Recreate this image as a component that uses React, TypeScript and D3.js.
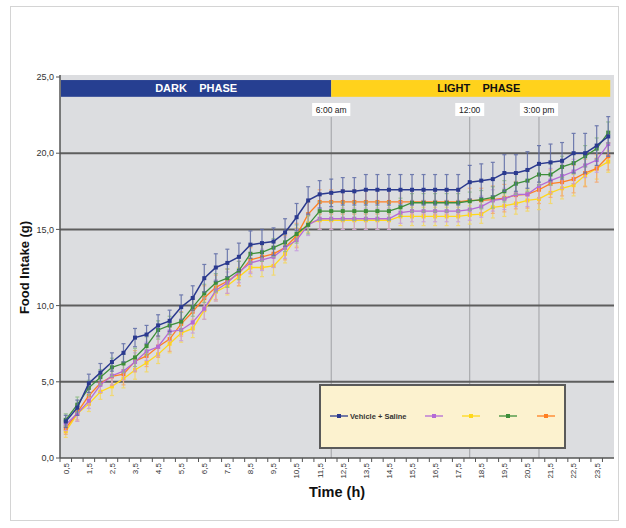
import React from 'react';
import * as d3 from 'd3';

// hours after lights off, one point every half hour
const times = [
  0.5, 1, 1.5, 2, 2.5, 3, 3.5, 4, 4.5, 5, 5.5, 6, 6.5, 7, 7.5, 8,
  8.5, 9, 9.5, 10, 10.5, 11, 11.5, 12, 12.5, 13, 13.5, 14, 14.5, 15, 15.5, 16,
  16.5, 17, 17.5, 18, 18.5, 19, 19.5, 20, 20.5, 21, 21.5, 22, 22.5, 23, 23.5, 24,
];

const yTicks = [0, 5, 10, 15, 20, 25];

const vehicle = [
  2.4, 3.3, 4.9, 5.6, 6.3, 6.9, 7.9, 8.1, 8.7, 9.0, 9.9, 10.5, 11.8, 12.5, 12.8, 13.2,
  14.0, 14.1, 14.2, 14.8, 15.8, 16.9, 17.3, 17.4, 17.5, 17.5, 17.6, 17.6, 17.6, 17.6, 17.6, 17.6,
  17.6, 17.6, 17.6, 18.1, 18.2, 18.3, 18.7, 18.7, 18.9, 19.3, 19.4, 19.5, 20.0, 20.0, 20.5, 21.1,
];
const vehicleErr = [
  0.4, 0.5, 0.6, 0.6, 0.6, 0.6, 0.6, 0.6, 0.7, 0.7, 0.8, 0.8, 0.9, 0.9, 0.9, 0.9,
  0.9, 0.9, 0.9, 0.9, 0.9, 0.9, 0.9, 0.9, 0.9, 0.9, 1.0, 1.0, 1.0, 1.0, 1.0, 1.0,
  1.0, 1.0, 1.0, 1.1, 1.1, 1.1, 1.2, 1.2, 1.2, 1.2, 1.2, 1.2, 1.3, 1.3, 1.3, 1.3,
];

const purple = [
  2.2, 2.9, 3.75, 4.8, 5.4, 5.7, 6.3, 7.0, 7.3, 8.3, 8.4, 8.9, 9.8, 11.0, 11.5, 12.2,
  12.8, 13.0, 13.2, 13.8, 14.3, 15.3, 15.7, 15.7, 15.7, 15.7, 15.7, 15.7, 15.7, 16.1, 16.2, 16.2,
  16.2, 16.2, 16.2, 16.3, 16.5, 16.9, 17.0, 17.3, 17.3, 17.85, 18.2, 18.5, 18.8, 19.2, 19.55, 20.6,
];
const purpleErr = [
  0.4, 0.5, 0.5, 0.5, 0.6, 0.6, 0.6, 0.6, 0.6, 0.6, 0.7, 0.7, 0.7, 0.7, 0.7, 0.7,
  0.7, 0.7, 0.7, 0.7, 0.7, 0.7, 0.7, 0.7, 0.7, 0.7, 0.7, 0.7, 0.7, 0.7, 0.7, 0.7,
  0.7, 0.7, 0.7, 0.7, 0.7, 0.7, 0.7, 0.8, 0.8, 0.8, 0.8, 0.8, 0.8, 0.8, 0.8, 0.8,
];

const yellow = [
  1.75, 2.9, 3.55, 4.35, 4.7, 5.2, 5.77, 6.25, 6.8, 7.5, 8.2, 8.5, 9.7, 10.9, 11.3, 11.9,
  12.5, 12.5, 12.6, 13.4, 14.5, 15.4, 15.6, 15.6, 15.6, 15.6, 15.6, 15.6, 15.6, 15.85, 15.85, 15.85,
  15.85, 15.85, 15.85, 15.95, 16.0, 16.45, 16.55, 16.7, 16.9, 17.0, 17.4, 17.7, 17.9, 18.55, 19.0, 19.45,
];
const yellowErr = [
  0.4, 0.5, 0.5, 0.5, 0.6, 0.6, 0.6, 0.6, 0.6, 0.6, 0.6, 0.6, 0.6, 0.6, 0.6, 0.6,
  0.6, 0.6, 0.6, 0.6, 0.6, 0.6, 0.6, 0.6, 0.6, 0.6, 0.6, 0.6, 0.6, 0.6, 0.6, 0.6,
  0.6, 0.6, 0.6, 0.6, 0.6, 0.7, 0.7, 0.7, 0.7, 0.7, 0.7, 0.7, 0.7, 0.7, 0.7, 0.7,
];

const green = [
  2.5, 3.5, 4.6, 5.3, 5.95, 6.2, 6.6, 7.35, 8.4, 8.7, 8.95, 9.9, 10.8, 11.5, 11.8, 12.3,
  13.4, 13.5, 13.8, 14.15, 14.7, 15.3, 16.2, 16.2, 16.2, 16.2, 16.2, 16.2, 16.2, 16.45, 16.75, 16.75,
  16.75, 16.75, 16.75, 16.85, 16.95, 17.1, 17.5, 18.0, 18.2, 18.6, 18.6, 19.1, 19.35, 19.8, 20.3, 21.35,
];
const greenErr = [
  0.4, 0.5, 0.5, 0.5, 0.6, 0.6, 0.6, 0.6, 0.6, 0.6, 0.6, 0.6, 0.6, 0.6, 0.6, 0.6,
  0.6, 0.6, 0.6, 0.6, 0.6, 0.6, 0.6, 0.6, 0.6, 0.6, 0.6, 0.6, 0.6, 0.6, 0.6, 0.6,
  0.6, 0.6, 0.6, 0.6, 0.6, 0.7, 0.7, 0.7, 0.7, 0.7, 0.7, 0.7, 0.7, 0.7, 0.7, 0.7,
];

const orange = [
  1.95, 3.0, 4.1, 4.9, 5.35, 5.5, 6.35, 6.7, 7.3, 7.8, 8.8, 9.6, 10.5, 11.2, 11.6, 12.1,
  13.0, 13.2, 13.4, 13.8, 14.6, 16.0, 16.8, 16.8, 16.8, 16.8, 16.8, 16.8, 16.8, 16.8, 16.8, 16.8,
  16.8, 16.8, 16.8, 16.9, 16.9, 16.95, 17.05, 17.25, 17.3, 17.6, 18.0, 18.1, 18.3, 18.7, 19.0, 19.8,
];
const orangeErr = [
  0.4, 0.5, 0.6, 0.6, 0.6, 0.7, 0.7, 0.7, 0.7, 0.8, 0.8, 0.8, 0.8, 0.8, 0.8, 0.8,
  0.8, 0.8, 0.8, 0.8, 0.8, 0.8, 0.8, 0.8, 0.8, 0.8, 0.8, 0.8, 0.8, 0.8, 0.8, 0.8,
  0.8, 0.8, 0.8, 0.8, 0.8, 0.9, 0.9, 0.9, 0.9, 0.9, 0.9, 0.9, 0.9, 0.9, 0.9, 0.9,
];

const seriesNames = ['Vehicle + Saline', '', '', '', ''];
const seriesColors = ['#2b3a8f', '#b46ad6', '#ffd81a', '#3d8f3a', '#ff7f22'];
const errColors = ['#5d6aa6', '#c79be0', '#f5d860', '#8fbd86', '#f5a870'];

const phases = [
  { label: 'DARK    PHASE', from: 0.5, to: 12, fill: '#263f91', text: '#ffffff' },
  { label: 'LIGHT    PHASE', from: 12, to: 24, fill: '#ffd21c', text: '#111111' },
];
const clockMarks = [
  { label: '6:00 am', t: 12 },
  { label: '12:00', t: 18 },
  { label: '3:00 pm', t: 21 },
];

const fmt = (v: number, digits: number) => v.toFixed(digits).replace('.', ',');

export default function App() {
  const W = 626;
  const H = 528;
  const left = 60;
  const right = 614;

  const x = d3.scaleBand<number>().domain(times).range([left, right]);
  const y = d3.scaleLinear().domain([0, 25]).range([458, 77]);
  const cx = (t: number) => (x(t) as number) + x.bandwidth() / 2;
  const top = y(25);
  const bottom = y(0);

  const values = [vehicle, purple, yellow, green, orange];
  const errs = [vehicleErr, purpleErr, yellowErr, greenErr, orangeErr];
  const drawOrder = [2, 4, 1, 3, 0];

  const line = d3
    .line<number>()
    .x((_, i) => cx(times[i]))
    .y((d) => y(d));

  const bannerTop = y(24.8);
  const bannerBottom = y(23.7);

  const legendX = [330, 425, 462, 499, 537];
  const legendY = 416;

  return (
    <svg
      width={W}
      height={H}
      style={{ position: 'absolute', left: 0, top: 0, background: '#fff' }}
      fontFamily="'Liberation Sans', Arial, sans-serif"
    >
      <rect x={10.5} y={6.5} width={608} height={514} fill="#fff" stroke="#d4d4d4" />

      {/* plot background */}
      <rect x={left} y={top - 2} width={right - left} height={bottom - top + 2} fill="#dcdde0" />

      {/* phase banner */}
      {phases.map((p, i) => {
        const x0 = i === 0 ? left + 1 : cx(p.from);
        const x1 = i === 0 ? cx(p.to) : cx(p.to) + 2;
        return (
          <g key={p.label}>
            <rect x={x0} y={bannerTop} width={x1 - x0} height={bannerBottom - bannerTop} fill={p.fill} />
            <text
              x={(x0 + x1) / 2 + (i === 0 ? 0 : 8)}
              y={(bannerTop + bannerBottom) / 2}
              dy="0.36em"
              textAnchor="middle"
              fontSize={11}
              fontWeight="bold"
              fill={p.text}
              style={{ whiteSpace: 'pre' }}
            >
              {p.label}
            </text>
          </g>
        );
      })}

      {/* clock reference lines */}
      {clockMarks.map((m) => (
        <g key={m.label}>
          <line x1={cx(m.t)} x2={cx(m.t)} y1={117} y2={bottom} stroke="#a0a0a4" strokeWidth={1} />
          <rect
            x={cx(m.t) - (m.label.length * 4.6 + 6) / 2}
            y={103}
            width={m.label.length * 4.6 + 6}
            height={13}
            fill="#ffffff"
          />
          <text x={cx(m.t)} y={109.5} dy="0.36em" textAnchor="middle" fontSize={8.5} fill="#222">
            {m.label}
          </text>
        </g>
      ))}

      {/* horizontal gridlines */}
      {yTicks
        .filter((t) => t > 0 && t < 25)
        .map((t) => (
          <line key={t} x1={left} x2={right} y1={y(t)} y2={y(t)} stroke="#5e5e5e" strokeWidth={2} />
        ))}

      {/* axes */}
      <line x1={left} x2={left} y1={top - 2} y2={bottom} stroke="#555" strokeWidth={1.5} />
      <line x1={left} x2={right} y1={bottom} y2={bottom} stroke="#555" strokeWidth={1.5} />
      {yTicks.map((t) => (
        <g key={t}>
          <line x1={left - 4} x2={left} y1={y(t)} y2={y(t)} stroke="#555" />
          <text x={left - 6} y={y(t)} dy="0.35em" textAnchor="end" fontSize={9} fill="#333">
            {fmt(t, 1)}
          </text>
        </g>
      ))}
      {times.map((t) => (
        <line
          key={'xt' + t}
          x1={x(t) as number}
          x2={x(t) as number}
          y1={bottom}
          y2={bottom + 4}
          stroke="#555"
        />
      ))}
      {times
        .filter((_, i) => i % 2 === 0)
        .map((t) => (
          <text
            key={'xl' + t}
            transform={`translate(${cx(t)},${bottom + 5}) rotate(-90)`}
            dy="0.35em"
            textAnchor="end"
            fontSize={8}
            fill="#333"
          >
            {fmt(t, 1)}
          </text>
        ))}

      {/* series: error bars, lines, markers */}
      {drawOrder.map((s) => (
        <g key={'s' + s}>
          {values[s].map((v, i) => {
            const px = cx(times[i]);
            const hi = y(v + errs[s][i]);
            const lo = y(v - errs[s][i]);
            return (
              <g key={i} stroke={errColors[s]} strokeWidth={1.2} opacity={0.85}>
                <line x1={px} x2={px} y1={hi} y2={lo} />
                <line x1={px - 2} x2={px + 2} y1={hi} y2={hi} />
                <line x1={px - 2} x2={px + 2} y1={lo} y2={lo} />
              </g>
            );
          })}
          <path d={line(values[s]) as string} fill="none" stroke={seriesColors[s]} strokeWidth={s === 0 ? 1.5 : 1.3} />
          {values[s].map((v, i) => (
            <rect
              key={'m' + i}
              x={cx(times[i]) - 2}
              y={y(v) - 2}
              width={4}
              height={4}
              fill={seriesColors[s]}
            />
          ))}
        </g>
      ))}

      {/* legend */}
      <rect x={320} y={385} width={245} height={63} fill="#fcf2cf" stroke="#5a5a5a" strokeWidth={2} />
      {seriesNames.map((name, s) => (
        <g key={'lg' + s}>
          <line
            x1={legendX[s]}
            x2={legendX[s] + 18}
            y1={legendY}
            y2={legendY}
            stroke={seriesColors[s]}
            strokeWidth={1.3}
          />
          <rect x={legendX[s] + 7} y={legendY - 2} width={4} height={4} fill={seriesColors[s]} />
          {name && (
            <text x={legendX[s] + 20} y={legendY} dy="0.35em" fontSize={7.5} fontWeight="bold" fill="#333">
              {name}
            </text>
          )}
        </g>
      ))}

      {/* axis titles */}
      <text
        transform={`translate(29,${(top + bottom) / 2}) rotate(-90)`}
        textAnchor="middle"
        fontSize={13}
        fontWeight="bold"
        fill="#111"
      >
        Food Intake (g)
      </text>
      <text x={337} y={497} textAnchor="middle" fontSize={14.5} fontWeight="bold" fill="#111">
        Time (h)
      </text>
    </svg>
  );
}
